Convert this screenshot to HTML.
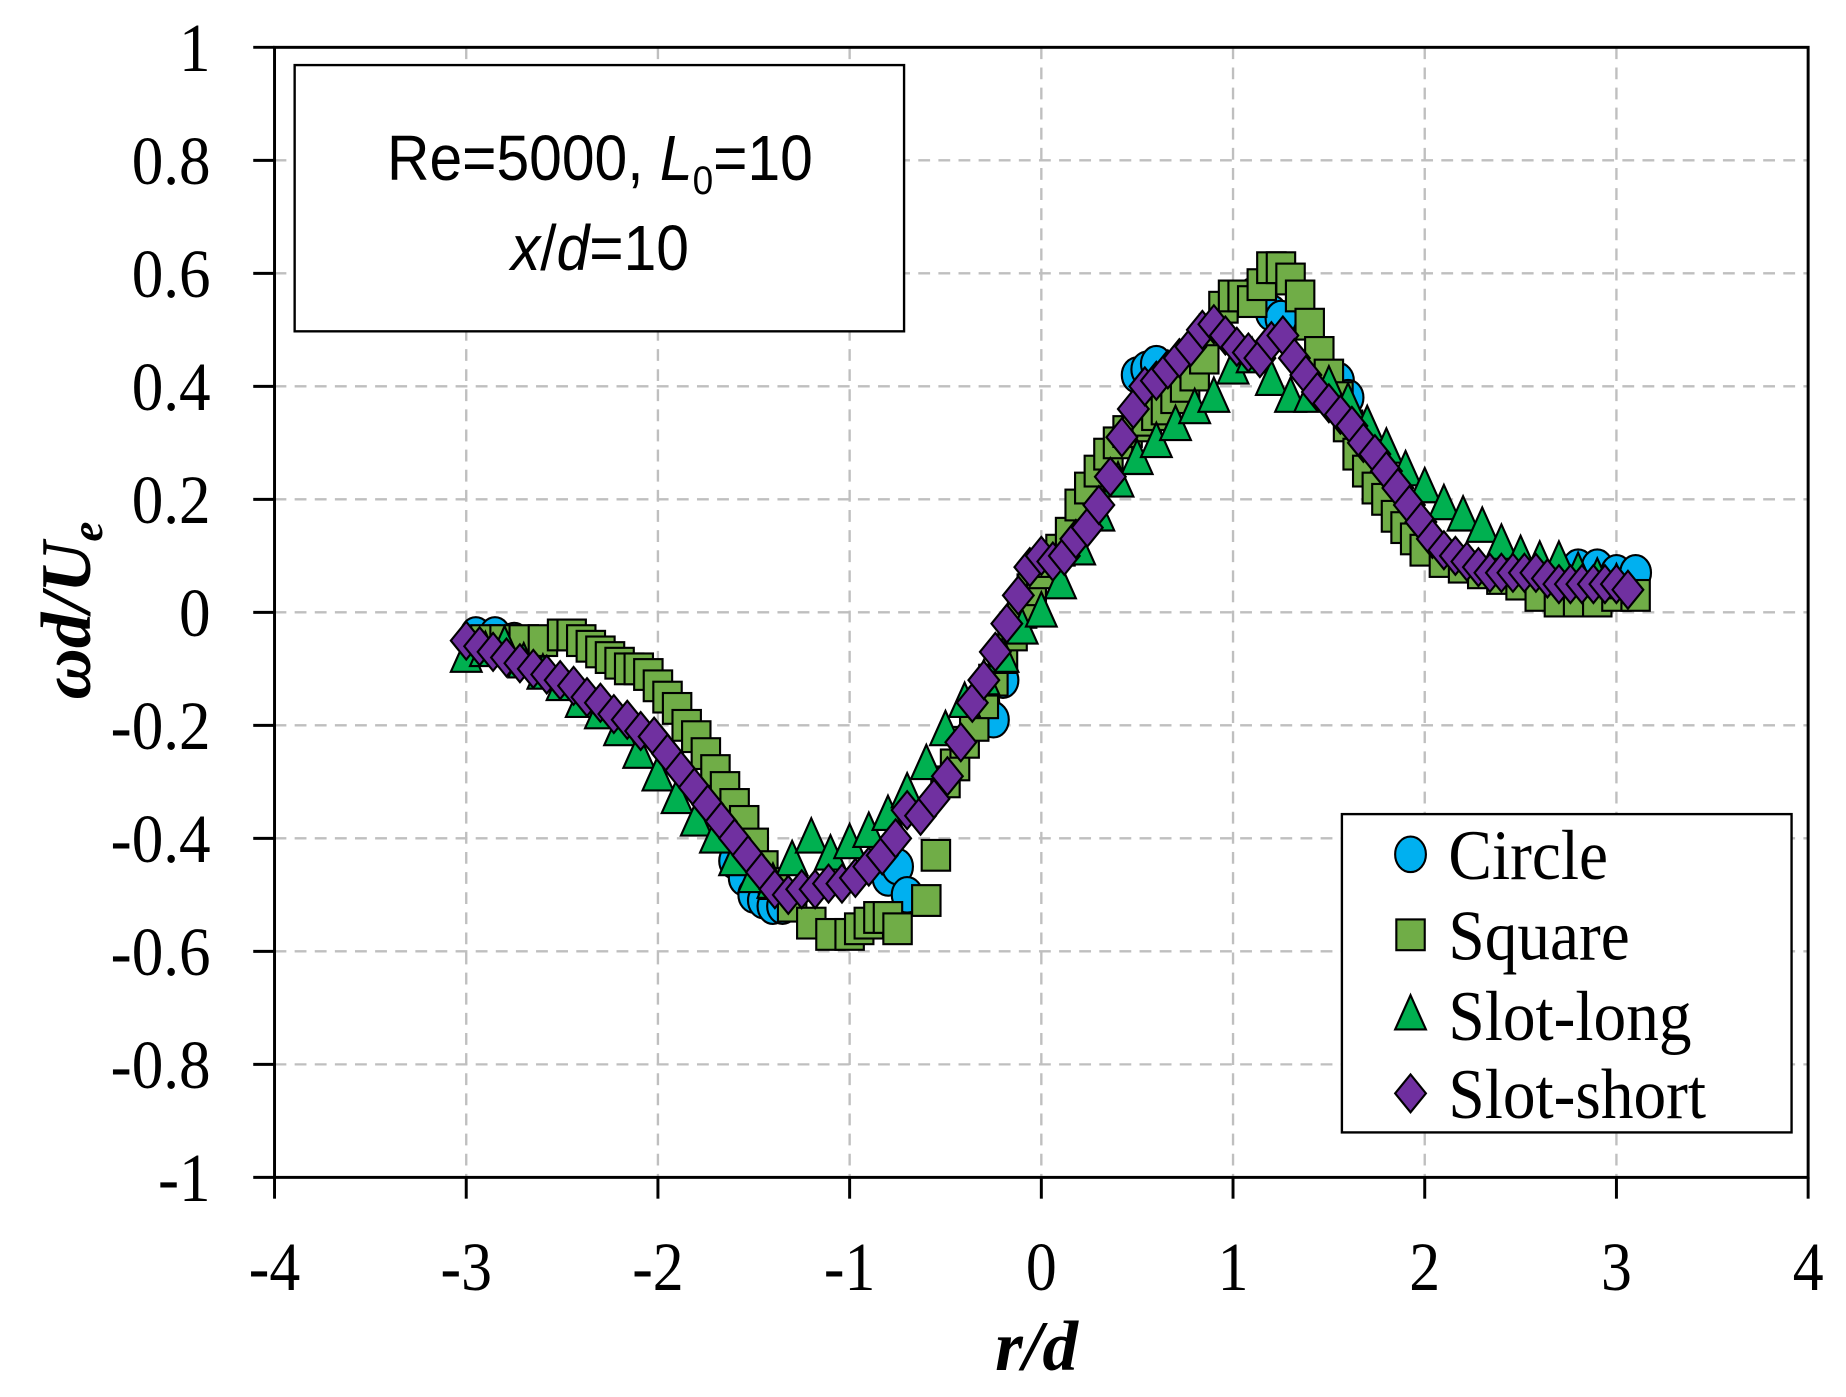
<!DOCTYPE html>
<html><head><meta charset="utf-8"><style>
html,body{margin:0;padding:0;background:#fff;}
svg{display:block;}
</style></head><body>
<svg id="chart" width="1846" height="1397" viewBox="0 0 1560 1180.6" preserveAspectRatio="none" xmlns="http://www.w3.org/2000/svg">
<g id="grid"></g>
<g id="axes"></g>
<g id="marks"></g>
<g>
<rect x="249" y="55" width="515" height="225" fill="#fff" stroke="#000" stroke-width="2"/>
<text x="507" y="152" text-anchor="middle" font-family="'Liberation Sans', sans-serif" font-size="54" transform="translate(507,0) scale(0.92,1) translate(-507,0)">Re=5000, <tspan font-style="italic">L</tspan><tspan font-size="34" dy="12">0</tspan><tspan dy="-12">=10</tspan></text>
<text x="507" y="228" text-anchor="middle" font-family="'Liberation Sans', sans-serif" font-size="54" transform="translate(507,0) scale(0.92,1) translate(-507,0)"><tspan font-style="italic">x</tspan>/<tspan font-style="italic">d</tspan>=10</text>
</g>
<g id="legend">
<rect x="1134" y="688" width="380" height="269" fill="#fff" stroke="#000" stroke-width="2"/>
</g>
<text x="876" y="1158" text-anchor="middle" font-family="'Liberation Serif', serif" font-size="60" font-weight="bold" font-style="italic">r/d</text>
<text transform="translate(76,516) rotate(-90)" text-anchor="middle" font-family="'Liberation Serif', serif" font-size="60" font-weight="bold" font-style="italic">ωd/U<tspan font-size="38" dy="10">e</tspan></text>
</svg>
<script>
const xTicks=[-4,-3,-2,-1,0,1,2,3,4];
const xTickLabels=["-4","-3","-2","-1","0","1","2","3","4"];
const yTicks=[1,0.8,0.6,0.4,0.2,0,-0.2,-0.4,-0.6,-0.8,-1];
const yTickLabels=["1","0.8","0.6","0.4","0.2","0","-0.2","-0.4","-0.6","-0.8","-1"];
const seriesNames=["Circle","Square","Slot-long","Slot-short"];

const circleX=[-2.95,-2.85,-2.75,-1.6,-1.55,-1.5,-1.45,-1.4,-1.35,-0.8,-0.75,-0.7,-0.3,-0.25,-0.2,0.5,0.55,0.6,1.1,1.2,1.25,1.55,1.6,2.8,2.9,3.0,3.1];
const circleY=[-0.04,-0.04,-0.05,-0.44,-0.47,-0.50,-0.51,-0.52,-0.52,-0.47,-0.45,-0.50,-0.16,-0.19,-0.12,0.42,0.43,0.44,0.56,0.53,0.52,0.41,0.38,0.08,0.08,0.07,0.07];

const squareX=[-2.9,-2.8,-2.7,-2.6,-2.5,-2.45,-2.4,-2.35,-2.3,-2.25,-2.2,-2.15,-2.1,-2.05,-2.0,-1.95,-1.9,-1.85,-1.8,-1.75,-1.7,-1.65,-1.6,-1.55,-1.5,-1.45,-1.4,-1.3,-1.2,-1.1,-1.0,-0.95,-0.9,-0.85,-0.8,-0.75,-0.6,-0.55,-0.5,-0.45,-0.4,-0.35,-0.3,-0.25,-0.2,-0.15,-0.1,-0.05,0.0,0.05,0.1,0.15,0.2,0.25,0.3,0.35,0.4,0.45,0.5,0.55,0.6,0.65,0.7,0.75,0.8,0.85,0.9,0.95,1.0,1.05,1.1,1.15,1.2,1.25,1.3,1.35,1.4,1.45,1.5,1.55,1.6,1.65,1.7,1.75,1.8,1.85,1.9,1.95,2.0,2.1,2.2,2.3,2.4,2.5,2.6,2.7,2.8,2.9,3.0,3.1];
const squareY=[-0.05,-0.05,-0.05,-0.05,-0.04,-0.04,-0.05,-0.06,-0.07,-0.08,-0.09,-0.10,-0.10,-0.11,-0.13,-0.15,-0.17,-0.20,-0.22,-0.25,-0.28,-0.31,-0.34,-0.37,-0.41,-0.45,-0.48,-0.52,-0.55,-0.57,-0.57,-0.56,-0.55,-0.54,-0.54,-0.56,-0.51,-0.43,-0.30,-0.27,-0.23,-0.20,-0.16,-0.12,-0.08,-0.04,0.0,0.04,0.07,0.09,0.11,0.14,0.19,0.22,0.25,0.28,0.30,0.32,0.33,0.34,0.35,0.36,0.38,0.40,0.42,0.45,0.50,0.54,0.56,0.56,0.55,0.58,0.61,0.61,0.59,0.56,0.51,0.46,0.42,0.38,0.33,0.28,0.25,0.22,0.20,0.17,0.15,0.13,0.11,0.09,0.08,0.07,0.06,0.05,0.03,0.02,0.02,0.02,0.03,0.03];

const longX=[-3.0,-2.9,-2.8,-2.7,-2.6,-2.5,-2.4,-2.3,-2.2,-2.1,-2.0,-1.9,-1.8,-1.7,-1.6,-1.5,-1.4,-1.3,-1.2,-1.1,-1.0,-0.9,-0.8,-0.7,-0.6,-0.5,-0.4,-0.3,-0.2,-0.1,0.0,0.1,0.2,0.3,0.4,0.5,0.6,0.7,0.8,0.9,1.0,1.1,1.2,1.3,1.4,1.5,1.6,1.7,1.8,1.9,2.0,2.1,2.2,2.3,2.4,2.5,2.6,2.7,2.8,2.9,3.0];
const longY=[-0.08,-0.07,-0.06,-0.09,-0.11,-0.13,-0.16,-0.18,-0.21,-0.25,-0.29,-0.33,-0.37,-0.40,-0.44,-0.47,-0.48,-0.44,-0.40,-0.43,-0.41,-0.39,-0.36,-0.32,-0.27,-0.21,-0.16,-0.12,-0.08,-0.03,0.0,0.05,0.11,0.17,0.23,0.27,0.30,0.33,0.36,0.38,0.43,0.45,0.41,0.38,0.38,0.40,0.37,0.33,0.29,0.25,0.22,0.19,0.17,0.15,0.12,0.10,0.09,0.09,0.07,0.06,0.05];

const shortX=[-3.0,-2.93,-2.86,-2.79,-2.72,-2.65,-2.58,-2.51,-2.44,-2.37,-2.3,-2.23,-2.16,-2.09,-2.02,-1.95,-1.88,-1.81,-1.74,-1.67,-1.6,-1.53,-1.46,-1.39,-1.32,-1.25,-1.18,-1.11,-1.04,-0.97,-0.9,-0.83,-0.76,-0.7,-0.63,-0.56,-0.49,-0.42,-0.36,-0.3,-0.24,-0.18,-0.12,-0.06,0.0,0.06,0.12,0.18,0.24,0.3,0.36,0.42,0.48,0.54,0.6,0.66,0.72,0.78,0.84,0.9,0.96,1.02,1.08,1.14,1.2,1.26,1.32,1.38,1.44,1.5,1.56,1.62,1.68,1.74,1.8,1.86,1.92,1.98,2.04,2.1,2.16,2.22,2.28,2.34,2.4,2.46,2.52,2.58,2.64,2.7,2.76,2.82,2.88,2.94,3.0,3.06];
const shortY=[-0.05,-0.06,-0.07,-0.08,-0.09,-0.10,-0.11,-0.12,-0.13,-0.15,-0.16,-0.18,-0.19,-0.21,-0.22,-0.25,-0.28,-0.31,-0.34,-0.37,-0.40,-0.43,-0.46,-0.49,-0.50,-0.49,-0.49,-0.48,-0.48,-0.47,-0.45,-0.43,-0.40,-0.35,-0.36,-0.33,-0.29,-0.23,-0.16,-0.12,-0.07,-0.02,0.03,0.08,0.10,0.09,0.10,0.13,0.15,0.19,0.24,0.31,0.36,0.40,0.41,0.43,0.45,0.47,0.50,0.51,0.49,0.47,0.46,0.45,0.48,0.49,0.45,0.42,0.39,0.37,0.35,0.33,0.30,0.28,0.25,0.22,0.19,0.16,0.13,0.11,0.10,0.09,0.08,0.07,0.07,0.07,0.07,0.07,0.06,0.05,0.05,0.05,0.05,0.05,0.05,0.04];

const NS='http://www.w3.org/2000/svg';
const X0=232,X1=1528,Y0=995,Y1=40;
function sx(v){return X0+(v+4)/8*(X1-X0);}
function sy(v){return Y0-(v+1)/2*(Y0-Y1);}
function mk(tag,attrs,parent){const e=document.createElementNS(NS,tag);for(const k in attrs)e.setAttribute(k,attrs[k]);parent.appendChild(e);return e;}
const grid=document.getElementById('grid'),axes=document.getElementById('axes'),marks=document.getElementById('marks'),legend=document.getElementById('legend');

xTicks.forEach((v,i)=>{
  if(v>-4&&v<4){const l=mk('line',{x1:sx(v),x2:sx(v),y1:Y1,y2:Y0,stroke:'#bfbfbf','stroke-width':2,'stroke-dasharray':'10,7'},grid);
  
  }
  const t=mk('line',{x1:sx(v),x2:sx(v),y1:Y0,y2:Y0+18,stroke:'#000','stroke-width':2.5},axes);
  
  
  const tx=mk('text',{x:sx(v),y:1090,'text-anchor':'middle','font-family':"'Liberation Serif', serif",'font-size':58,transform:`translate(${sx(v)},0) scale(0.9,1) translate(${-sx(v)},0)`},axes);
  tx.textContent=xTickLabels[i];
  
  
});
yTicks.forEach((v,i)=>{
  if(v>-1&&v<1){const l=mk('line',{x1:X0,x2:X1,y1:sy(v),y2:sy(v),stroke:'#bfbfbf','stroke-width':2,'stroke-dasharray':'10,7'},grid);
  
  }
  const t=mk('line',{x1:214,x2:X0,y1:sy(v),y2:sy(v),stroke:'#000','stroke-width':2.5},axes);
  
  
  const tx=mk('text',{x:178,y:sy(v)+20,'text-anchor':'end','font-family':"'Liberation Serif', serif",'font-size':58,transform:'translate(178,0) scale(0.92,1) translate(-178,0)'},axes);
  tx.textContent=yTickLabels[i];
  
  
});
const frame=mk('rect',{x:X0,y:Y1,width:X1-X0,height:Y0-Y1,fill:'none',stroke:'#000','stroke-width':2.5},axes);



function marker(type,cx,cy,parent){
  const st={stroke:'#000','stroke-width':1.8};
  let e;
  if(type==0){e=mk('ellipse',Object.assign({cx:cx,cy:cy,rx:13,ry:15,fill:'#00b0f0'},st),parent);}
  else if(type==1){e=mk('rect',Object.assign({x:cx-12,y:cy-13,width:24,height:26,fill:'#70ad47'},st),parent);}
  else if(type==2){e=mk('polygon',Object.assign({points:`${cx},${cy-17} ${cx+13},${cy+12} ${cx-13},${cy+12}`,fill:'#00b050'},st),parent);}
  else {e=mk('polygon',Object.assign({points:`${cx},${cy-16} ${cx+13},${cy} ${cx},${cy+16} ${cx-13},${cy}`,fill:'#7030a0'},st),parent);}
  return e;
}
const allX=[circleX,squareX,longX,shortX],allY=[circleY,squareY,longY,shortY];
const snames=['circle-point','square-point','slot-long-point','slot-short-point'];
for(let s=0;s<4;s++){
  for(let i=0;i<allX[s].length;i++){
    const e=marker(s,sx(allX[s][i]),sy(allY[s][i]),marks);
    
    
  }
}
const legY=[722,790,858,924];
seriesNames.forEach((n,i)=>{
  const m=marker(i,1192,legY[i],legend);
  
  
  const t=mk('text',{x:1224,y:legY[i]+21,'font-family':"'Liberation Serif', serif",'font-size':60,transform:'translate(1224,0) scale(0.92,1) translate(-1224,0)'},legend);
  t.textContent=n;
  
  
});
</script>
</body></html>
